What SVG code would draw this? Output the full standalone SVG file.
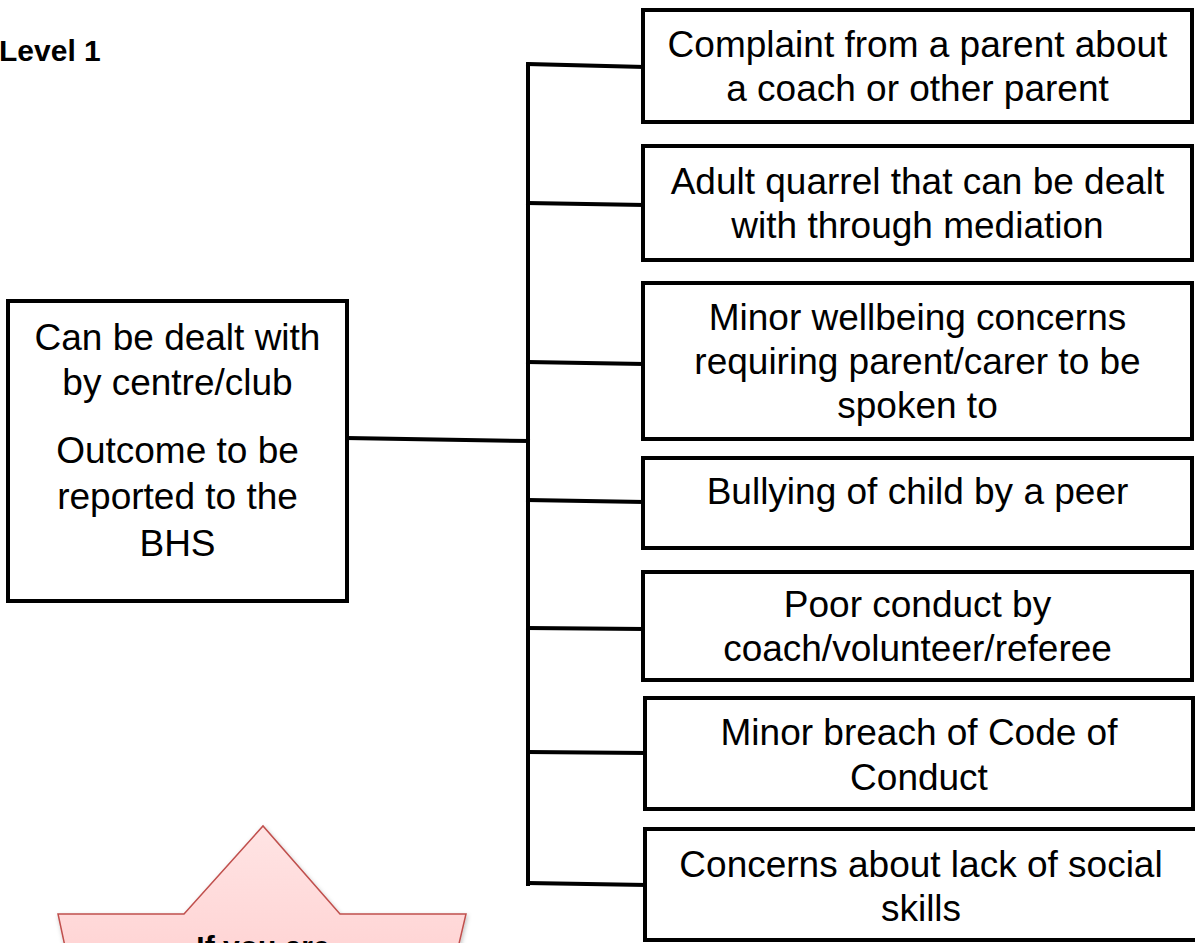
<svg xmlns="http://www.w3.org/2000/svg" width="1195" height="943" viewBox="0 0 1195 943">
<style>
.box{fill:#fff;stroke:#000;stroke-width:4}
.t{font-family:"Liberation Sans",Arial,sans-serif;font-size:37px;fill:#000;text-anchor:middle}
.con{fill:none;stroke:#000;stroke-width:4;stroke-linecap:square}
.title{font-family:"Liberation Sans",Arial,sans-serif;font-size:30px;font-weight:bold;fill:#000}
.star{font-family:"Liberation Sans",Arial,sans-serif;font-size:30px;font-weight:bold;fill:#000;text-anchor:middle}
</style>
<defs>
<linearGradient id="pink" x1="0" y1="0" x2="0" y2="1">
<stop offset="0" stop-color="#ffe4e4"/>
<stop offset="1" stop-color="#ffd3d3"/>
</linearGradient>
<filter id="sh" x="-10%" y="-10%" width="120%" height="130%">
<feDropShadow dx="1" dy="2" stdDeviation="2" flood-color="#000" flood-opacity="0.25"/>
</filter>
</defs>
<rect width="1195" height="943" fill="#fff"/>
<text class="title" x="-1" y="61">Level 1</text>

<g id="connectors">
<line class="con" x1="528" y1="65" x2="528" y2="884"/>
<line class="con" x1="528" y1="64" x2="643" y2="67"/>
<line class="con" x1="528" y1="203" x2="643" y2="205"/>
<line class="con" x1="528" y1="362" x2="643" y2="364"/>
<line class="con" x1="528" y1="500" x2="643" y2="502"/>
<line class="con" x1="528" y1="628" x2="643" y2="629"/>
<line class="con" x1="528" y1="752" x2="645" y2="753"/>
<line class="con" x1="528" y1="883" x2="645" y2="885"/>
<line class="con" x1="347" y1="438" x2="528" y2="441"/>
</g>

<g id="left">
<rect class="box" x="8" y="301" width="339" height="300"/>
<text class="t" x="177.5" y="350">Can be dealt with</text>
<text class="t" x="177.5" y="395">by centre/club</text>
<text class="t" x="177.5" y="463">Outcome to be</text>
<text class="t" x="177.5" y="509">reported to the</text>
<text class="t" x="177.5" y="556">BHS</text>
</g>

<g id="n1">
<rect class="box" x="643" y="10" width="549" height="112"/>
<text class="t" x="917.5" y="57">Complaint from a parent about</text>
<text class="t" x="917.5" y="101">a coach or other parent</text>
</g>

<g id="n2">
<rect class="box" x="643" y="146" width="549" height="114"/>
<text class="t" x="917.5" y="194">Adult quarrel that can be dealt</text>
<text class="t" x="917.5" y="238">with through mediation</text>
</g>

<g id="n3">
<rect class="box" x="643" y="283" width="549" height="156"/>
<text class="t" x="917.5" y="330">Minor wellbeing concerns</text>
<text class="t" x="917.5" y="374">requiring parent/carer to be</text>
<text class="t" x="917.5" y="418">spoken to</text>
</g>

<g id="n4">
<rect class="box" x="643" y="458" width="549" height="90"/>
<text class="t" x="917.5" y="504">Bullying of child by a peer</text>
</g>

<g id="n5">
<rect class="box" x="643" y="572" width="549" height="108"/>
<text class="t" x="917.5" y="617">Poor conduct by</text>
<text class="t" x="917.5" y="661">coach/volunteer/referee</text>
</g>

<g id="n6">
<rect class="box" x="645" y="698" width="548" height="111"/>
<text class="t" x="919" y="745">Minor breach of Code of</text>
<text class="t" x="919" y="790">Conduct</text>
</g>

<g id="n7">
<rect class="box" x="645" y="829" width="553" height="111"/>
<text class="t" x="921" y="877">Concerns about lack of social</text>
<text class="t" x="921" y="921">skills</text>
</g>

<g id="starnote">
<path d="M69,965 L58,914 L184,914 L263,826 L340,914 L466,914 L454,965 Z" fill="url(#pink)" stroke="#c0504d" stroke-width="1.5" filter="url(#sh)"/>
<text class="star" x="263" y="957">If you are</text>
</g>
</svg>
